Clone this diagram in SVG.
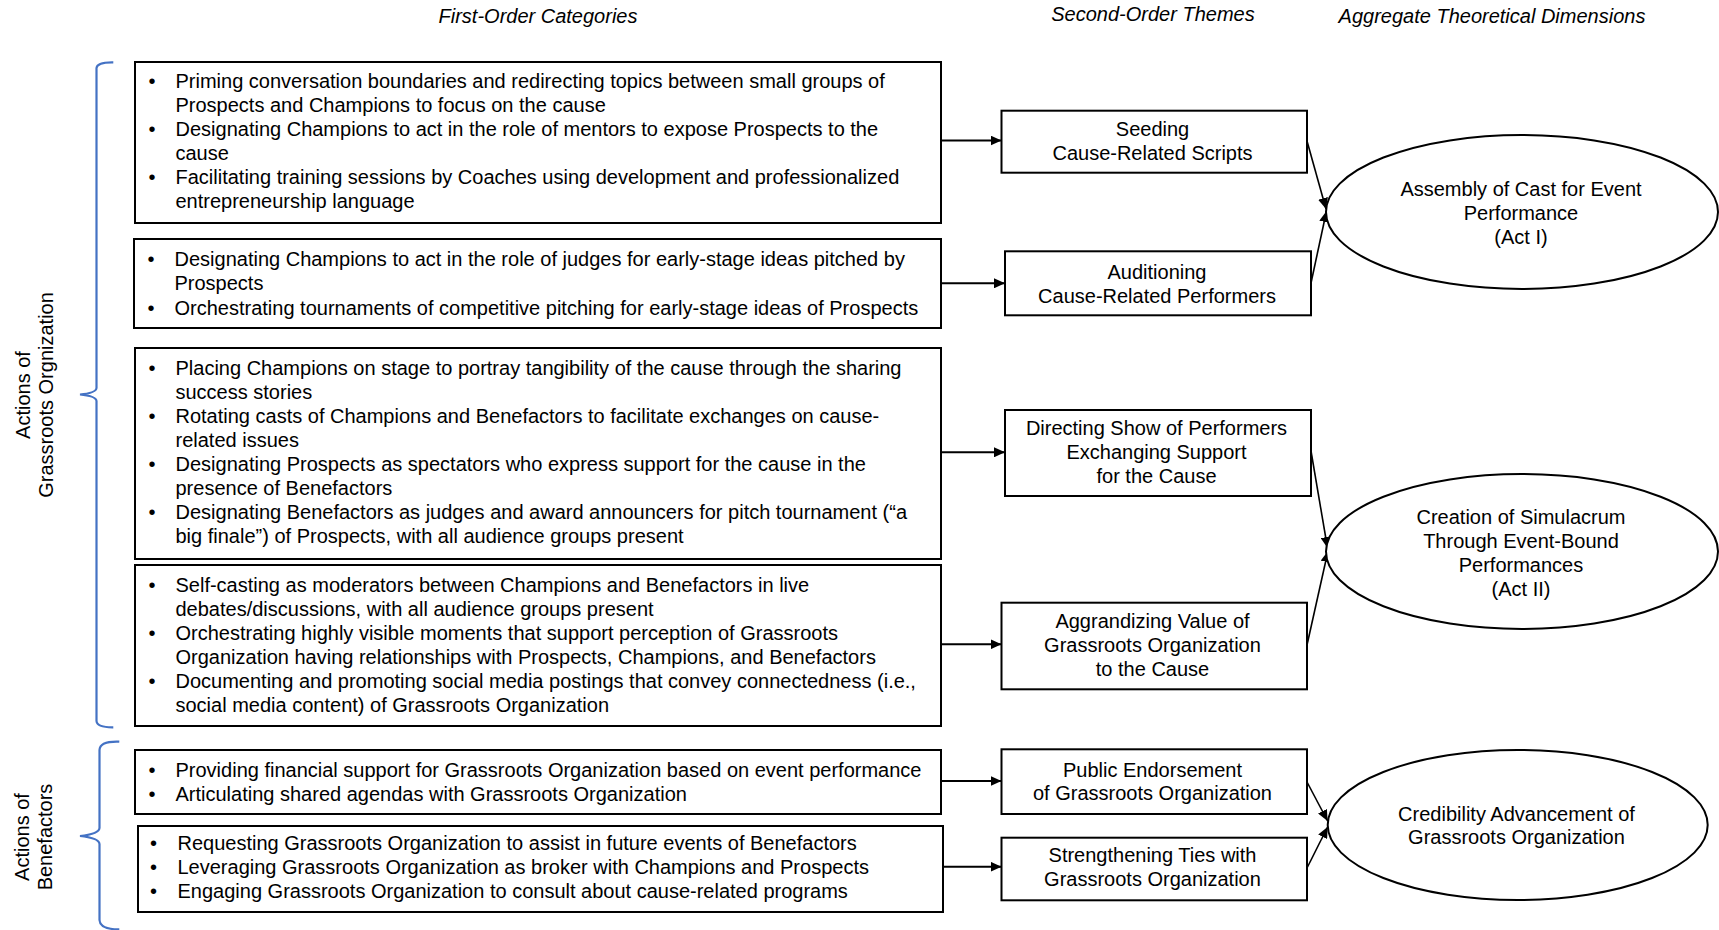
<svg xmlns="http://www.w3.org/2000/svg" width="1719" height="930" viewBox="0 0 1719 930">
<style>
text{font-family:"Liberation Sans",Arial,sans-serif;font-size:20px;fill:#000}
.h{font-style:italic}
.c{text-anchor:middle}
.b{text-anchor:middle}
.box{fill:#fff;stroke:#000;stroke-width:2}
.brace{fill:none;stroke:#4472C4;stroke-width:2.2}
.con{stroke:#000;stroke-width:2;fill:none}
.dg{stroke:#000;stroke-width:1.6;fill:none}
</style>
<defs>
<marker id="ah" markerUnits="userSpaceOnUse" markerWidth="11" markerHeight="10" refX="11" refY="5" orient="auto">
<path d="M0,0 L11,5 L0,10 z" fill="#000"/>
</marker>
</defs>
<rect width="1719" height="930" fill="#fff"/>
<g id="headers">
<text class="h c" x="538" y="23">First-Order Categories</text>
<text class="h c" x="1153" y="21">Second-Order Themes</text>
<text class="h c" x="1492" y="23">Aggregate Theoretical Dimensions</text>
</g>
<g id="brace-grassroots">
<path class="brace" d="M113.3,62.3 Q97,62 96.5,68 L96.5,388 Q96,393 80,394.5 Q96,396 96.5,401 L96.5,721 Q97,727.5 113.3,727.3"/>
<text class="c" transform="translate(30,395) rotate(-90)">Actions of</text>
<text class="c" transform="translate(52.5,395) rotate(-90)">Grassroots Orgnization</text>
</g>
<g id="brace-benefactors">
<path class="brace" d="M119.3,741.7 Q100,741 99.5,750 L99.5,828 Q99,834 80,836 Q99,838 99.5,844 L99.5,920 Q100,929.5 119.3,929.3"/>
<text class="c" transform="translate(28.5,837) rotate(-90)">Actions of</text>
<text class="c" transform="translate(51.5,837) rotate(-90)">Benefactors</text>
</g>
<g id="connectors">
<line class="con" x1="941" y1="140.5" x2="1001.5" y2="140.5" marker-end="url(#ah)"/>
<line class="con" x1="941" y1="283.3" x2="1005" y2="283.3" marker-end="url(#ah)"/>
<line class="con" x1="941" y1="452.3" x2="1005" y2="452.3" marker-end="url(#ah)"/>
<line class="con" x1="941" y1="644.3" x2="1001.5" y2="644.3" marker-end="url(#ah)"/>
<line class="con" x1="941" y1="781" x2="1001.5" y2="781" marker-end="url(#ah)"/>
<line class="con" x1="943" y1="866.7" x2="1001.5" y2="866.7" marker-end="url(#ah)"/>
<line class="dg" x1="1307" y1="141" x2="1326" y2="209" marker-end="url(#ah)"/>
<line class="dg" x1="1311" y1="283" x2="1326.5" y2="211" marker-end="url(#ah)"/>
<line class="dg" x1="1311" y1="451" x2="1327.5" y2="548" marker-end="url(#ah)"/>
<line class="dg" x1="1307" y1="645" x2="1328" y2="551" marker-end="url(#ah)"/>
<line class="dg" x1="1307" y1="782" x2="1327.6" y2="821" marker-end="url(#ah)"/>
<line class="dg" x1="1307" y1="868" x2="1327.6" y2="827" marker-end="url(#ah)"/>
</g>
<g id="fo1">
<rect class="box" x="135" y="62" width="806" height="161"/>
<text class="b" x="152" y="88">•</text><text x="175.5" y="88">Priming conversation boundaries and redirecting topics between small groups of</text>
<text x="175.5" y="112">Prospects and Champions to focus on the cause</text>
<text class="b" x="152" y="136">•</text><text x="175.5" y="136">Designating Champions to act in the role of mentors to expose Prospects to the</text>
<text x="175.5" y="160">cause</text>
<text class="b" x="152" y="184">•</text><text x="175.5" y="184">Facilitating training sessions by Coaches using development and professionalized</text>
<text x="175.5" y="208">entrepreneurship language</text>
</g>
<g id="fo2">
<rect class="box" x="134" y="239" width="807" height="89"/>
<text class="b" x="151" y="266">•</text><text x="174.5" y="266">Designating Champions to act in the role of judges for early-stage ideas pitched by</text>
<text x="174.5" y="290">Prospects</text>
<text class="b" x="151" y="314.5">•</text><text x="174.5" y="314.5">Orchestrating tournaments of competitive pitching for early-stage ideas of Prospects</text>
</g>
<g id="fo3">
<rect class="box" x="135" y="348" width="806" height="211"/>
<text class="b" x="152" y="374.5">•</text><text x="175.5" y="374.5">Placing Champions on stage to portray tangibility of the cause through the sharing</text>
<text x="175.5" y="398.5">success stories</text>
<text class="b" x="152" y="422.5">•</text><text x="175.5" y="422.5">Rotating casts of Champions and Benefactors to facilitate exchanges on cause-</text>
<text x="175.5" y="446.5">related issues</text>
<text class="b" x="152" y="470.5">•</text><text x="175.5" y="470.5">Designating Prospects as spectators who express support for the cause in the</text>
<text x="175.5" y="494.5">presence of Benefactors</text>
<text class="b" x="152" y="518.5">•</text><text x="175.5" y="518.5">Designating Benefactors as judges and award announcers for pitch tournament (“a</text>
<text x="175.5" y="542.5">big finale”) of Prospects, with all audience groups present</text>
</g>
<g id="fo4">
<rect class="box" x="135" y="565" width="806" height="161"/>
<text class="b" x="152" y="591.5">•</text><text x="175.5" y="591.5">Self-casting as moderators between Champions and Benefactors in live</text>
<text x="175.5" y="615.5">debates/discussions, with all audience groups present</text>
<text class="b" x="152" y="639.5">•</text><text x="175.5" y="639.5">Orchestrating highly visible moments that support perception of Grassroots</text>
<text x="175.5" y="663.5">Organization having relationships with Prospects, Champions, and Benefactors</text>
<text class="b" x="152" y="687.5">•</text><text x="175.5" y="687.5">Documenting and promoting social media postings that convey connectedness (i.e.,</text>
<text x="175.5" y="711.5">social media content) of Grassroots Organization</text>
</g>
<g id="fo5">
<rect class="box" x="135" y="750" width="806" height="64"/>
<text class="b" x="152" y="776.5">•</text><text x="175.5" y="776.5">Providing financial support for Grassroots Organization based on event performance</text>
<text class="b" x="152" y="800.5">•</text><text x="175.5" y="800.5">Articulating shared agendas with Grassroots Organization</text>
</g>
<g id="fo6">
<rect class="box" x="138" y="826" width="805" height="86"/>
<text class="b" x="153.5" y="849.5">•</text><text x="177.5" y="849.5">Requesting Grassroots Organization to assist in future events of Benefactors</text>
<text class="b" x="153.5" y="873.5">•</text><text x="177.5" y="873.5">Leveraging Grassroots Organization as broker with Champions and Prospects</text>
<text class="b" x="153.5" y="897.5">•</text><text x="177.5" y="897.5">Engaging Grassroots Organization to consult about cause-related programs</text>
</g>
<g id="so1">
<rect class="box" x="1001.5" y="110.7" width="305.5" height="62"/>
<text class="c" x="1152.5" y="135.5">Seeding</text>
<text class="c" x="1152.5" y="159.5">Cause-Related Scripts</text>
</g>
<g id="so2">
<rect class="box" x="1005" y="251.3" width="306" height="64"/>
<text class="c" x="1157" y="279.3">Auditioning</text>
<text class="c" x="1157" y="302.5">Cause-Related Performers</text>
</g>
<g id="so3">
<rect class="box" x="1005" y="410" width="306" height="86"/>
<text class="c" x="1156.5" y="435">Directing Show of Performers</text>
<text class="c" x="1156.5" y="459">Exchanging Support</text>
<text class="c" x="1156.5" y="483">for the Cause</text>
</g>
<g id="so4">
<rect class="box" x="1001.5" y="602.7" width="305.5" height="86.6"/>
<text class="c" x="1152.5" y="627.7">Aggrandizing Value of</text>
<text class="c" x="1152.5" y="651.7">Grassroots Organization</text>
<text class="c" x="1152.5" y="675.5">to the Cause</text>
</g>
<g id="so5">
<rect class="box" x="1001.5" y="749.3" width="305.5" height="64.7"/>
<text class="c" x="1152.5" y="776.7">Public Endorsement</text>
<text class="c" x="1152.5" y="800.3">of Grassroots Organization</text>
</g>
<g id="so6">
<rect class="box" x="1001.5" y="837.7" width="305.5" height="62.6"/>
<text class="c" x="1152.5" y="861.7">Strengthening Ties with</text>
<text class="c" x="1152.5" y="885.7">Grassroots Organization</text>
</g>
<g id="ad1">
<ellipse class="box" cx="1522" cy="212" rx="196" ry="77"/>
<text class="c" x="1521" y="196.3">Assembly of Cast for Event</text>
<text class="c" x="1521" y="220.3">Performance</text>
<text class="c" x="1521" y="244.3">(Act I)</text>
</g>
<g id="ad2">
<ellipse class="box" cx="1522" cy="551.5" rx="196" ry="77.5"/>
<text class="c" x="1521" y="523.7">Creation of Simulacrum</text>
<text class="c" x="1521" y="547.7">Through Event-Bound</text>
<text class="c" x="1521" y="571.7">Performances</text>
<text class="c" x="1521" y="596">(Act II)</text>
</g>
<g id="ad3">
<ellipse class="box" cx="1517.7" cy="825" rx="190" ry="75"/>
<text class="c" x="1516.5" y="821">Credibility Advancement of</text>
<text class="c" x="1516.5" y="844.3">Grassroots Organization</text>
</g>
</svg>
